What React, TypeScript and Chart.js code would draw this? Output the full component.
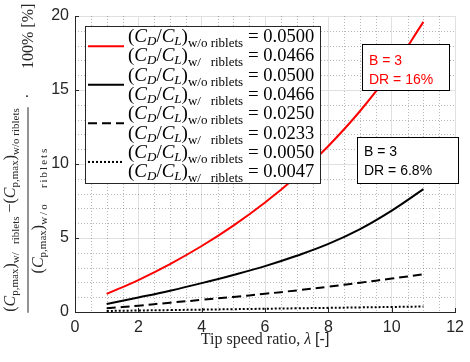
import React, { useEffect, useRef } from "react";
import { Chart, registerables } from "chart.js";

Chart.register(...registerables);

const SERIF = '"Liberation Serif", "DejaVu Serif", serif';
const SANS = '"Liberation Sans", Arial, sans-serif';
const AXIS = "#262626";

// ---- data ----
const tipSpeedRatio = [1, 2, 3, 4, 5, 6, 7, 8, 9, 10, 11];
const redSolid = [1.22, 2.16, 3.24, 4.46, 5.84, 7.4, 9.18, 11.22, 13.58, 16.34, 19.6];
const blackSolid = [0.54, 0.98, 1.44, 1.95, 2.5, 3.1, 3.8, 4.6, 5.6, 6.85, 8.3];
const blackDashed = [0.25, 0.43, 0.63, 0.82, 1.02, 1.23, 1.46, 1.71, 1.98, 2.26, 2.55];
const blackDotted = [0.07, 0.1, 0.13, 0.16, 0.19, 0.22, 0.25, 0.28, 0.31, 0.34, 0.37];

const xTickValues = [0, 2, 4, 6, 8, 10, 12];
const yTickValues = [0, 5, 10, 15, 20];
const xMinorStep = 0.5;
const yMinorStep = 1;

const ratioWithout = ["0.0500", "0.0500", "0.0250", "0.0050"];
const ratioWith = ["0.0466", "0.0466", "0.0233", "0.0047"];

const boxRedLines = ["B = 3", "DR = 16%"];
const boxBlackLines = ["B = 3", "DR = 6.8%"];

const seriesValues = [redSolid, blackSolid, blackDashed, blackDotted];
const seriesColors = ["#ff0000", "#000000", "#000000", "#000000"];
const seriesDashes: number[][] = [[], [], [9, 5], [2, 2]];

type Seg = { t: string; f: string; dy?: number; wt?: string; ls?: number };

function segAdvance(ctx: CanvasRenderingContext2D, s: Seg) {
  ctx.font = s.f;
  (ctx as any).letterSpacing = `${s.ls || 0}px`;
  const w = ctx.measureText(s.t).width;
  const w2 = s.wt ? ctx.measureText(s.wt).width : 0;
  (ctx as any).letterSpacing = "0px";
  return Math.max(w, w2);
}
function segsWidth(ctx: CanvasRenderingContext2D, segs: Seg[]) {
  let w = 0;
  for (const s of segs) w += segAdvance(ctx, s);
  return w;
}
function drawSegs(ctx: CanvasRenderingContext2D, segs: Seg[], x: number, y: number) {
  ctx.textAlign = "left";
  ctx.textBaseline = "alphabetic";
  let cx = x;
  for (const s of segs) {
    const adv = segAdvance(ctx, s);
    ctx.font = s.f;
    (ctx as any).letterSpacing = `${s.ls || 0}px`;
    ctx.fillText(s.t, cx, y + (s.dy || 0));
    (ctx as any).letterSpacing = "0px";
    cx += adv;
  }
  return cx;
}

function legendRow(sub: string, val: string): Seg[] {
  return [
    { t: "(", f: `19px ${SERIF}` },
    { t: "C", f: `italic 19px ${SERIF}` },
    { t: "D", f: `italic 13px ${SERIF}`, dy: 3 },
    { t: "/", f: `19px ${SERIF}` },
    { t: "C", f: `italic 19px ${SERIF}` },
    { t: "L", f: `italic 13px ${SERIF}`, dy: 3 },
    { t: ")", f: `19px ${SERIF}` },
    { t: sub, f: `13px ${SERIF}`, dy: 5, wt: "w/o " },
    { t: "riblets", f: `13px ${SERIF}`, dy: 5 },
    { t: " = ", f: `19px ${SERIF}` },
    { t: val, f: `18.5px ${SERIF}` },
  ];
}

function cpmax(sub: string, ls = 0): Seg[] {
  return [
    { t: "(", f: `16px ${SERIF}` },
    { t: "C", f: `italic 16px ${SERIF}` },
    { t: "p,max", f: `11px ${SERIF}`, dy: 3 },
    { t: ")", f: `16px ${SERIF}` },
    { t: sub, f: `11px ${SERIF}`, dy: 4, wt: "w/o ", ls },
    { t: "riblets", f: `11px ${SERIF}`, dy: 4, ls },
  ];
}

const decorPlugin = {
  id: "decor",
  beforeDatasetsDraw(chart: any) {
    const ctx: CanvasRenderingContext2D = chart.ctx;
    const xs = chart.scales.x;
    const ys = chart.scales.y;
    const a = chart.chartArea;
    ctx.save();
    ctx.strokeStyle = "rgba(0,0,0,0.28)";
    ctx.lineWidth = 1;
    ctx.setLineDash([1, 2]);
    for (let v = xs.min; v <= xs.max + 1e-9; v += xMinorStep) {
      if (xTickValues.some((t) => Math.abs(t - v) < 1e-9)) continue;
      const px = Math.round(xs.getPixelForValue(v)) + 0.5;
      ctx.beginPath();
      ctx.moveTo(px, a.top);
      ctx.lineTo(px, a.bottom);
      ctx.stroke();
    }
    for (let v = ys.min; v <= ys.max + 1e-9; v += yMinorStep) {
      if (yTickValues.some((t) => Math.abs(t - v) < 1e-9)) continue;
      const py = Math.round(ys.getPixelForValue(v)) + 0.5;
      ctx.beginPath();
      ctx.moveTo(a.left, py);
      ctx.lineTo(a.right, py);
      ctx.stroke();
    }
    ctx.setLineDash([]);
    ctx.strokeStyle = AXIS;
    for (const v of xTickValues) {
      const px = Math.round(xs.getPixelForValue(v)) + 0.5;
      ctx.beginPath();
      ctx.moveTo(px, a.bottom);
      ctx.lineTo(px, a.bottom - 4);
      ctx.stroke();
    }
    for (const v of yTickValues) {
      const py = Math.round(ys.getPixelForValue(v)) + 0.5;
      ctx.beginPath();
      ctx.moveTo(a.left, py);
      ctx.lineTo(a.left + 4, py);
      ctx.stroke();
    }
    ctx.restore();
  },
  afterDatasetsDraw(chart: any) {
    const ctx: CanvasRenderingContext2D = chart.ctx;
    ctx.save();

    // ---- legend ----
    const lx = 85.5, ly = 26.5, lw = 235, lh = 157;
    ctx.fillStyle = "#ffffff";
    ctx.fillRect(lx, ly, lw, lh);
    ctx.strokeStyle = AXIS;
    ctx.lineWidth = 1;
    ctx.strokeRect(lx, ly, lw, lh);
    const rowStep = 19.3;
    const base0 = 42;
    for (let i = 0; i < 4; i++) {
      const b1 = base0 + rowStep * (2 * i);
      const b2 = base0 + rowStep * (2 * i + 1);
      ctx.fillStyle = "#000";
      drawSegs(ctx, legendRow("w/o ", ratioWithout[i]), 128, b1);
      drawSegs(ctx, legendRow("w/ ", ratioWith[i]), 128, b2);
      const sy = (b1 + b2) / 2 - 5.5;
      ctx.strokeStyle = seriesColors[i];
      ctx.lineWidth = 2;
      ctx.setLineDash(seriesDashes[i]);
      ctx.beginPath();
      ctx.moveTo(88, sy);
      ctx.lineTo(124, sy);
      ctx.stroke();
      ctx.setLineDash([]);
    }

    // ---- annotation boxes ----
    const drawBox = (x: number, y: number, w: number, h: number, lines: string[], color: string, tx: number, b1: number, b2: number) => {
      ctx.fillStyle = "#fff";
      ctx.fillRect(x, y, w, h);
      ctx.strokeStyle = "#000";
      ctx.lineWidth = 1;
      ctx.strokeRect(x, y, w, h);
      ctx.fillStyle = color;
      ctx.font = `14px ${SANS}`;
      ctx.textAlign = "left";
      ctx.textBaseline = "alphabetic";
      ctx.fillText(lines[0], tx, b1);
      ctx.fillText(lines[1], tx, b2);
    };
    drawBox(362.5, 44.5, 87, 46, boxRedLines, "#ff0000", 369, 64.5, 83.5);
    drawBox(357.5, 137.5, 101, 46, boxBlackLines, "#000", 364, 156, 175);

    // ---- x axis title ----
    const xt: Seg[] = [
      { t: "Tip speed ratio, ", f: `16px ${SERIF}` },
      { t: "λ", f: `italic 16px ${SERIF}` },
      { t: " ", f: `16px ${SERIF}` },
      { t: "[-]", f: `16px ${SANS}` },
    ];
    ctx.fillStyle = AXIS;
    const xw = segsWidth(ctx, xt);
    const a = chart.chartArea;
    drawSegs(ctx, xt, (a.left + a.right) / 2 - xw / 2, 344);

    // ---- y axis title (rotated fraction) ----
    ctx.translate(0, 362);
    ctx.rotate(-Math.PI / 2);
    const num: Seg[] = [...cpmax("w/ "), { t: " −", f: `16px ${SERIF}` }, ...cpmax("w/o ")];
    const den: Seg[] = cpmax("w/o   ", 2);
    const uc = 152;
    const nw = segsWidth(ctx, num);
    const dw = segsWidth(ctx, den);
    ctx.fillStyle = AXIS;
    drawSegs(ctx, num, uc - nw / 2, 15);
    drawSegs(ctx, den, uc - dw / 2, 43);
    ctx.strokeStyle = AXIS;
    ctx.lineWidth = 1;
    ctx.beginPath();
    ctx.moveTo(uc - nw / 2 - 1, 28);
    ctx.lineTo(uc + nw / 2 + 1, 28);
    ctx.stroke();
    ctx.font = `16px ${SERIF}`;
    ctx.textAlign = "center";
    ctx.fillText("·", 266, 33);
    ctx.textAlign = "left";
    ctx.fillText("100% [%]", 293, 33);

    ctx.restore();
  },
};

export default function App() {
  const ref = useRef<HTMLCanvasElement | null>(null);
  useEffect(() => {
    document.body.style.margin = "0";
    const canvas = ref.current!;
    const chart = new Chart(canvas, {
      type: "line",
      data: {
        datasets: seriesValues.map((vals, i) => ({
          data: tipSpeedRatio.map((x, j) => ({ x, y: vals[j] })),
          borderColor: seriesColors[i],
          borderWidth: 2,
          borderDash: seriesDashes[i],
          pointRadius: 0,
          fill: false,
          tension: 0.4,
        })),
      },
      options: {
        responsive: false,
        animation: false,
        events: [],
        layout: { padding: { top: 16, right: 10, left: 0, bottom: 0 } },
        plugins: { legend: { display: false }, tooltip: { enabled: false } },
        scales: {
          x: {
            type: "linear",
            min: 0,
            max: 12,
            afterBuildTicks: (s: any) => {
              s.ticks = xTickValues.map((v) => ({ value: v }));
            },
            afterFit: (s: any) => {
              s.height = 50;
            },
            ticks: { font: { family: SANS, size: 16 }, color: AXIS, padding: 6, maxRotation: 0, autoSkip: false },
            grid: { color: "#e0e0e0", lineWidth: 1, drawTicks: false },
            border: { display: true, color: AXIS, width: 1 },
          },
          y: {
            type: "linear",
            min: 0,
            max: 20,
            afterBuildTicks: (s: any) => {
              s.ticks = yTickValues.map((v) => ({ value: v }));
            },
            afterFit: (s: any) => {
              s.width = 75;
            },
            ticks: { font: { family: SANS, size: 16 }, color: AXIS, padding: 6, autoSkip: false },
            grid: { color: "#e0e0e0", lineWidth: 1, drawTicks: false },
            border: { display: true, color: AXIS, width: 1 },
          },
        },
      },
      plugins: [decorPlugin],
    });
    return () => chart.destroy();
  }, []);
  return (
    <div style={{ width: 470, height: 362, background: "#fff" }}>
      <canvas ref={ref} width={470} height={362} style={{ display: "block" }} />
    </div>
  );
}
